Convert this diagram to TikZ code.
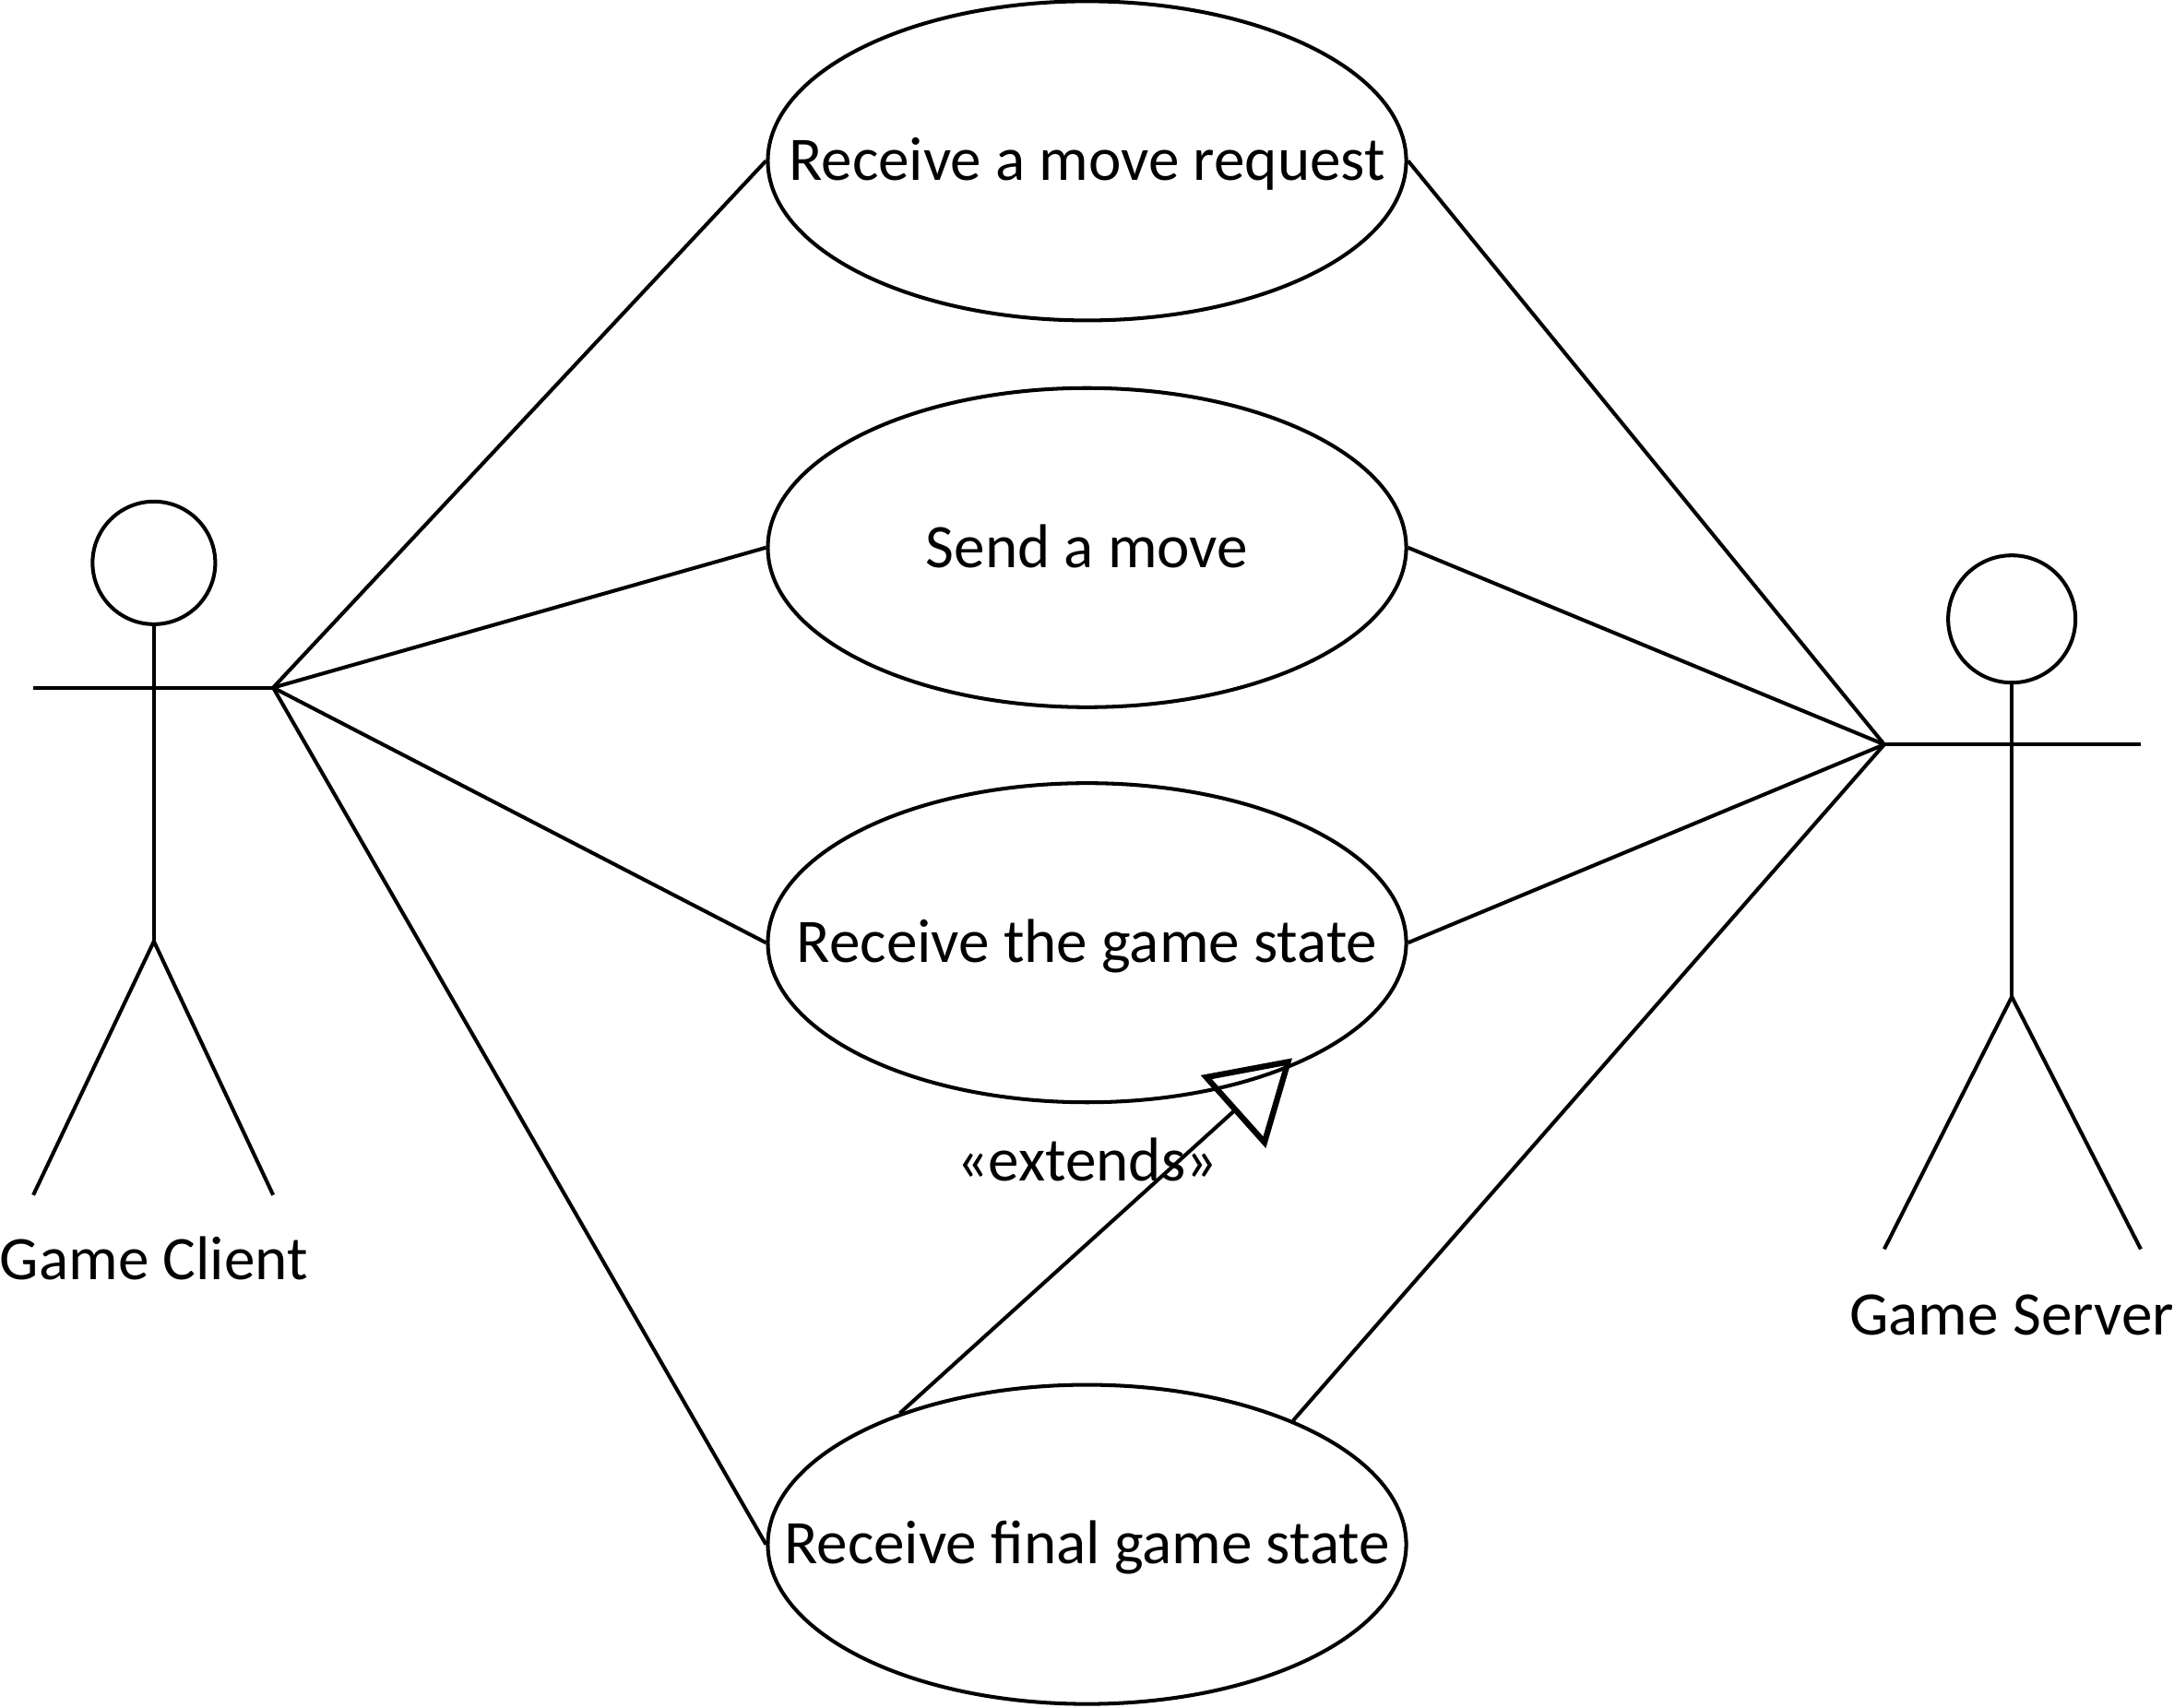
\documentclass[tikz,border=0pt]{standalone}
\usepackage{fontspec}
\setmainfont{Carlito}
\usetikzlibrary{shapes.geometric,calc}
\tikzset{
  usecase/.style={ellipse,draw,line width=1.15pt,minimum width=6.92cm,minimum height=3.46cm,inner sep=0pt},
  casetext/.style={font=\fontsize{19.1}{23}\selectfont,inner sep=0pt,text height=15pt,text depth=2.9pt},
  assoc/.style={line width=1.15pt},
  actorlabel/.style={font=\fontsize{19.1}{23}\selectfont,inner sep=0pt,text height=15pt,text depth=2.9pt},
  head/.style={circle,draw,line width=1.15pt,inner sep=0pt}
}
\begin{document}
\begin{tikzpicture}[x=0.01503cm,y=-0.01503cm]
    \useasboundingbox (0,0) rectangle (1568,1231.5);
    % use cases
    \node[usecase,label={[casetext]center:Receive a move request}] (move) at (784,116) {};
    \node[usecase,label={[casetext]center:Send a move}] (send) at (784,395) {};
    \node[usecase,label={[casetext]center:Receive the game state}] (state) at (784,680) {};
    \node[usecase,label={[casetext]center:Receive final game state}] (final) at (784,1114) {};

    % client
    \node[head,minimum size=1.33cm] (chead) at (111,406) {};
    \coordinate (chand1) at (24,496);
    \coordinate (chand2) at (197,496);
    \coordinate (chip) at (111,679);
    \coordinate (cfoot1) at (24,862);
    \coordinate (cfoot2) at (197,862);
    \draw[assoc] (chead) -- (chip);
    \draw[assoc] (chand1) -- (chand2);
    \draw[assoc] (cfoot1) -- (chip) -- (cfoot2);
    \node[actorlabel] (client) at (111,909) {Game Client};

    % server
    \node[head,minimum size=1.38cm] (shead) at (1451,446.5) {};
    \coordinate (shand1) at (1359,537);
    \coordinate (shand2) at (1544,537);
    \coordinate (ship) at (1451,719);
    \coordinate (sfoot1) at (1359,901);
    \coordinate (sfoot2) at (1544,901);
    \draw[assoc] (shead) -- (ship);
    \draw[assoc] (shand1) -- (shand2);
    \draw[assoc] (sfoot1) -- (ship) -- (sfoot2);
    \node[actorlabel] (server) at (1451,949) {Game Server};

    % associations
    \draw[assoc] (chand2) -- (move.west);
    \draw[assoc] (chand2) -- (send.west);
    \draw[assoc] (chand2) -- (state.west);
    \draw[assoc] (chand2) -- (final.west);
    \draw[assoc] (shand1) -- (move.east);
    \draw[assoc] (shand1) -- (send.east);
    \draw[assoc] (shand1) -- (state.east);
    \draw[assoc] (shand1) -- (final.31);

    % extends
    \node[actorlabel] (ext) at (784,838) {«extends»};
    \coordinate (tip) at (929,766);
    \coordinate (barb1) at (870,777);
    \coordinate (barb2) at (912,824);
    \draw[assoc] (final.145) -- ($(barb1)!0.5!(barb2)$);
    \draw[line width=1.8pt,line join=miter] (tip) -- (barb1) -- (barb2) -- cycle;
\end{tikzpicture}
\end{document}
